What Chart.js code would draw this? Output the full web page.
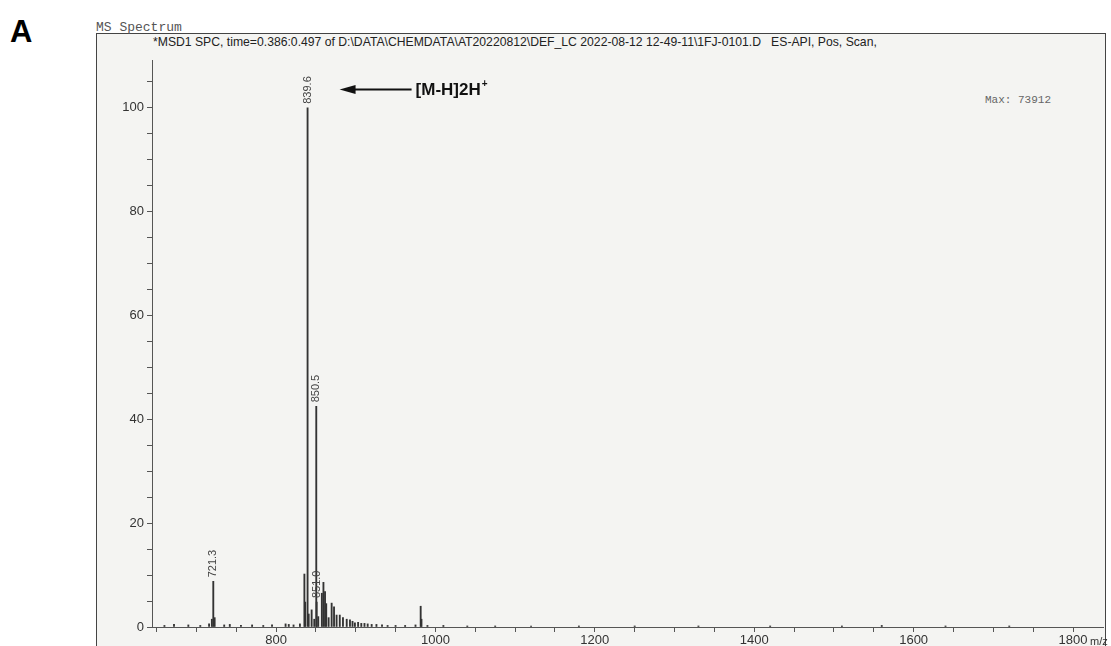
<!DOCTYPE html>
<html>
<head>
<meta charset="utf-8">
<script src="https://cdn.jsdelivr.net/npm/chart.js@4"></script>
<style>
  html, body { margin: 0; padding: 0; background: #fff; }
  #wrap { position: relative; width: 1111px; height: 646px; overflow: hidden; }
  #frame { position: absolute; left: 96px; top: 33px; width: 1008px; height: 640px;
           border: 1px solid #444; background: #f4f4f2; }
  #panel { position: absolute; left: 10px; top: 14px; font: bold 31px "Liberation Sans", Arial, sans-serif; color: #000; }
  #title { position: absolute; left: 96px; top: 20px; font: 13px "Liberation Mono", "Courier New", monospace; color: #555; }
  #header { position: absolute; left: 153px; top: 35px; font: 12.2px "Liberation Sans", Arial, sans-serif; color: #222;
            white-space: pre; letter-spacing: 0px; }
  #maxText { position: absolute; left: 985px; top: 94px; font: 11px "Liberation Mono", "Courier New", monospace; color: #666; }
  canvas { position: absolute; left: 0; top: 0; }
</style>
</head>
<body>
<div id="wrap">
  <div id="frame"></div>
  <div id="panel">A</div>
  <div id="title">MS Spectrum</div>
  <div id="header">*MSD1 SPC, time=0.386:0.497 of D:\DATA\CHEMDATA\AT20220812\DEF_LC 2022-08-12 12-49-11\1FJ-0101.D   ES-API, Pos, Scan,</div>
  <div id="maxText">Max: 73912</div>
  <canvas id="myChart" width="1111" height="646"></canvas>
</div>
<script>
// m/z values and relative abundance (%)
const mzValues = [660, 672, 690, 705, 716, 719.5, 721.3, 723, 735, 742, 756, 770, 784, 795,
  812, 816, 822, 830, 835.6, 836.6, 839.6, 841, 844.7, 848, 850.5, 851.0, 853, 857.5,
  859.5, 861.5, 863, 866, 869.8, 872.8, 876, 880, 884, 888.7, 892.8, 896, 899, 903, 907,
  911, 915, 920, 926, 933, 940, 950, 962, 975, 981.5, 982.5, 990, 1010, 1040, 1075, 1120,
  1180, 1250, 1330, 1420, 1510, 1560, 1640, 1720];
const abundance = [0.3, 0.5, 0.4, 0.3, 0.6, 1.5, 8.8, 1.8, 0.4, 0.5, 0.3, 0.4, 0.3, 0.4,
  0.6, 0.5, 0.4, 0.6, 10.2, 4.8, 100, 2.5, 3.3, 1.5, 42.5, 4.8, 2.0, 6.5,
  8.6, 6.8, 4.5, 1.8, 4.6, 3.9, 2.3, 2.3, 1.8, 1.5, 1.4, 1.1, 0.8, 0.9, 0.7,
  0.7, 0.6, 0.5, 0.5, 0.4, 0.3, 0.3, 0.3, 0.4, 4.0, 1.5, 0.3, 0.3, 0.2, 0.2, 0.2,
  0.2, 0.2, 0.2, 0.2, 0.2, 0.3, 0.2, 0.2];

// labelled peaks
const labelMz = [721.3, 839.6, 850.5, 851.0];
const labelHeights = [8.8, 100, 42.5, 4.8];
const labelText = ['721.3', '839.6', '850.5', '851.0'];

const xTickLabels = [800, 1000, 1200, 1400, 1600, 1800];
const yTickLabels = [0, 20, 40, 60, 80, 100];
const xTickMarks = [650, 700, 750, 800, 850, 900, 950, 1000, 1050, 1100, 1150, 1200, 1250, 1300,
  1350, 1400, 1450, 1500, 1550, 1600, 1650, 1700, 1750, 1800];
const yTickMarks = [0, 5, 10, 15, 20, 25, 30, 35, 40, 45, 50, 55, 60, 65, 70, 75, 80, 85, 90, 95, 100, 105];

const peakLabels = {
  id: 'peakLabels',
  afterDraw(chart) {
    const ctx = chart.ctx;
    const xs = chart.scales.x, ys = chart.scales.y;
    ctx.save();
    ctx.fillStyle = '#444';
    ctx.font = '11px "Liberation Sans", Arial, sans-serif';
    ctx.textAlign = 'left';
    ctx.textBaseline = 'middle';
    labelMz.forEach((mz, i) => {
      const px = xs.getPixelForValue(mz);
      const py = ys.getPixelForValue(labelHeights[i]) - 4;
      ctx.save();
      ctx.translate(px, py);
      ctx.rotate(-Math.PI / 2);
      ctx.fillText(labelText[i], 0, 0);
      ctx.restore();
    });

    // annotation arrow for the base peak
    const tipX = xs.getPixelForValue(839.6) + 32;
    const ay = ys.getPixelForValue(103.5);
    ctx.strokeStyle = '#111';
    ctx.fillStyle = '#111';
    ctx.lineWidth = 2;
    ctx.beginPath();
    ctx.moveTo(tipX + 12, ay);
    ctx.lineTo(tipX + 72, ay);
    ctx.stroke();
    ctx.beginPath();
    ctx.moveTo(tipX, ay);
    ctx.lineTo(tipX + 16, ay - 4.5);
    ctx.lineTo(tipX + 16, ay + 4.5);
    ctx.closePath();
    ctx.fill();
    ctx.font = 'bold 17px "Liberation Sans", Arial, sans-serif';
    ctx.textBaseline = 'middle';
    ctx.fillText('[M-H]2H', tipX + 76, ay + 1);
    const w = ctx.measureText('[M-H]2H').width;
    ctx.font = 'bold 10px "Liberation Sans", Arial, sans-serif';
    ctx.fillText('+', tipX + 77 + w, ay - 5);

    // axis unit
    ctx.font = '11px "Liberation Sans", Arial, sans-serif';
    ctx.fillStyle = '#333';
    ctx.textBaseline = 'alphabetic';
    ctx.fillText('m/z', xs.getPixelForValue(1800) + 17, 645);
    ctx.restore();
  }
};

const ctx = document.getElementById('myChart').getContext('2d');
const spectrum = new Chart(ctx, {
  type: 'bar',
  data: {
    datasets: [{
      data: mzValues.map((m, i) => ({ x: m, y: abundance[i] })),
      backgroundColor: '#333',
      barThickness: 1.2,
      borderWidth: 0
    }]
  },
  options: {
    responsive: false,
    animation: false,
    layout: { padding: { left: 100, top: 60, right: 8, bottom: 0 } },
    plugins: { legend: { display: false }, tooltip: { enabled: false } },
    scales: {
      x: {
        type: 'linear',
        offset: false,
        min: 644.4,
        max: 1837.6,
        afterFit: (s) => { s.height = 19; },
        afterBuildTicks: (s) => { s.ticks = xTickMarks.map(v => ({ value: v })); },
        border: { display: true, color: '#555', width: 1 },
        grid: { display: true, drawOnChartArea: false, drawTicks: true, tickLength: 5, color: '#555', offset: false },
        ticks: {
          autoSkip: false,
          maxRotation: 0,
          padding: 1,
          color: '#333',
          font: { family: '"Liberation Sans", Arial, sans-serif', size: 13 },
          callback: (v) => xTickLabels.includes(v) ? String(v) : ''
        }
      },
      y: {
        min: 0,
        max: 109.2,
        afterFit: (s) => { s.width = 52; },
        afterBuildTicks: (s) => { s.ticks = yTickMarks.map(v => ({ value: v })); },
        border: { display: true, color: '#555', width: 1 },
        grid: { display: true, drawOnChartArea: false, drawTicks: true, tickLength: 5, color: '#555' },
        ticks: {
          autoSkip: false,
          padding: 3,
          color: '#333',
          font: { family: '"Liberation Sans", Arial, sans-serif', size: 13 },
          callback: (v) => yTickLabels.includes(v) ? String(v) : ''
        }
      }
    }
  },
  plugins: [peakLabels]
});
</script>
</body>
</html>
